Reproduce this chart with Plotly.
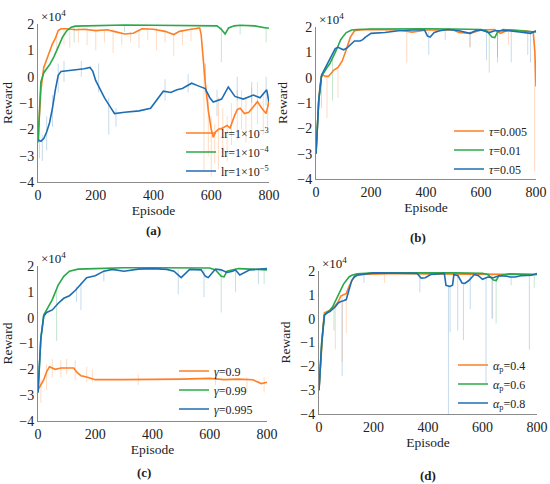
import plotly.graph_objects as go

# ---------------- data (rewards in units of 10^4) ----------------
# panel (a): learning rate
A_ORANGE_EP = [0, 5, 10, 20, 30, 40, 50, 60, 70, 80, 100, 130, 160, 200, 240, 270, 300, 330, 360, 400, 440, 470, 490, 520, 550, 560, 565, 572, 579, 590, 600, 607, 615, 625, 640, 655, 665, 680, 690, 700, 715, 730, 745, 760, 775, 790, 800]
A_ORANGE = [-2.4, -1.2, -0.5, 0.35, 0.65, 0.95, 1.25, 1.45, 1.75, 1.82, 1.82, 1.78, 1.8, 1.75, 1.78, 1.7, 1.62, 1.65, 1.82, 1.8, 1.72, 1.6, 1.72, 1.78, 1.85, 1.85, 1.6, 0.6, -0.2, -1.3, -2.0, -2.3, -2.1, -2.0, -1.95, -1.85, -1.95, -1.5, -1.25, -1.2, -1.4, -1.35, -1.15, -0.95, -1.2, -1.4, -0.95]
A_GREEN_EP = [0, 5, 10, 20, 30, 40, 55, 70, 85, 100, 115, 130, 160, 200, 300, 400, 500, 600, 620, 635, 648, 660, 680, 700, 750, 790, 800]
A_GREEN = [-2.5, -1.0, -0.2, 0.15, 0.3, 0.45, 0.75, 1.15, 1.5, 1.75, 1.88, 1.92, 1.93, 1.95, 1.96, 1.95, 1.95, 1.94, 1.93, 1.8, 1.62, 1.85, 1.93, 1.95, 1.93, 1.85, 1.85]
A_BLUE_EP = [0, 10, 20, 30, 40, 50, 60, 70, 80, 100, 130, 160, 180, 190, 200, 215, 230, 250, 265, 300, 350, 390, 413, 434, 460, 481, 500, 532, 555, 579, 595, 607, 636, 659, 682, 711, 746, 769, 792, 800]
A_BLUE = [-2.4, -2.45, -2.35, -2.1, -1.75, -1.2, -0.5, 0.05, 0.2, 0.22, 0.25, 0.3, 0.35, 0.2, -0.15, -0.5, -0.8, -1.15, -1.4, -1.35, -1.3, -1.2, -0.85, -0.55, -0.6, -0.5, -0.45, -0.25, -0.35, -0.45, -0.8, -0.96, -0.85, -0.39, -0.75, -0.85, -0.7, -0.8, -0.5, -0.96]
A_ORANGE_SPK_EP = [65, 90, 110, 140, 170, 200, 230, 260, 290, 320, 350, 380, 410, 440, 470, 500, 530, 575, 590, 600, 612, 625, 640, 655, 670, 690, 705, 720, 740, 760, 780, 795]
A_ORANGE_SPK_LO = [0.9, 1.2, 1.1, 1.3, 1.2, 1.0, 1.3, 0.9, 1.2, 1.3, 1.1, 1.4, 1.0, 1.3, 0.8, 1.2, 1.35, -3.6, -3.0, -3.8, -3.3, -3.5, -2.9, -3.2, -2.6, -2.4, -2.0, -2.5, -2.0, -1.8, -2.2, -1.9]
A_ORANGE_SPK_HI = [1.6, 1.85, 1.85, 1.85, 1.85, 1.8, 1.8, 1.8, 1.7, 1.7, 1.8, 1.85, 1.85, 1.75, 1.65, 1.8, 1.85, 0.5, -0.8, -1.5, -1.8, -0.8, -1.2, -1.5, -1.0, -0.5, -0.5, -0.8, -0.4, -0.2, -0.6, -0.5]
A_GREEN_SPK_EP = [125, 300, 635, 700, 790]
A_GREEN_SPK_LO = [1.3, 1.7, 0.55, 1.6, 1.3]
A_GREEN_SPK_HI = [1.95, 1.97, 1.9, 1.95, 1.9]
A_BLUE_SPK_EP = [5, 15, 30, 50, 70, 90, 150, 210, 245, 270, 440, 520, 580, 620, 690, 740, 790]
A_BLUE_SPK_LO = [-3.1, -3.2, -2.8, -1.9, -0.6, -0.2, 0.0, -0.6, -2.2, -1.9, -0.9, -0.6, -0.6, -1.5, -0.9, -1.0, -1.1]
A_BLUE_SPK_HI = [-2.0, -2.2, -1.5, -0.7, 0.5, 0.6, 0.6, 0.5, -0.8, -1.2, -0.1, 0.1, 0.5, -0.5, 0.0, -0.2, 0.0]

# panel (b): tau
B_ORANGE_EP = [0, 5, 10, 15, 20, 25, 35, 45, 55, 65, 80, 95, 110, 125, 140, 160, 200, 300, 350, 400, 500, 520, 560, 600, 650, 670, 700, 760, 790, 796, 800]
B_ORANGE = [-3.0, -1.8, -0.9, -0.3, 0.05, 0.1, 0.05, 0.05, 0.2, 0.3, 0.4, 0.65, 1.1, 1.6, 1.85, 1.88, 1.9, 1.88, 1.8, 1.88, 1.88, 1.78, 1.75, 1.88, 1.9, 1.75, 1.88, 1.85, 1.8, 1.0, -0.35]
B_GREEN_EP = [0, 5, 10, 20, 30, 40, 50, 60, 70, 80, 90, 100, 110, 130, 150, 200, 300, 400, 500, 600, 620, 640, 650, 660, 680, 800]
B_GREEN = [-3.0, -1.8, -0.9, 0.05, 0.25, 0.4, 0.55, 0.75, 1.0, 1.25, 1.5, 1.65, 1.78, 1.88, 1.9, 1.92, 1.93, 1.93, 1.92, 1.9, 1.85, 1.6, 1.58, 1.8, 1.9, 1.8]
B_BLUE_EP = [0, 5, 10, 20, 30, 40, 50, 60, 70, 80, 90, 100, 110, 120, 140, 160, 170, 180, 200, 250, 300, 350, 395, 405, 415, 430, 450, 480, 520, 560, 580, 600, 630, 650, 700, 740, 780, 800]
B_BLUE = [-3.0, -1.8, -0.9, 0.1, 0.3, 0.5, 0.7, 0.95, 1.15, 1.2, 1.15, 1.1, 1.15, 1.25, 1.45, 1.45, 1.5, 1.6, 1.75, 1.78, 1.85, 1.88, 1.88, 1.65, 1.6, 1.78, 1.85, 1.9, 1.85, 1.75, 1.85, 1.88, 1.78, 1.85, 1.85, 1.8, 1.75, 1.85]
B_ORANGE_SPK_EP = [40, 80, 330, 560, 700, 795]
B_ORANGE_SPK_LO = [-1.6, -0.8, 0.6, 1.2, 1.3, -3.7]
B_ORANGE_SPK_HI = [0.1, 0.4, 1.85, 1.8, 1.88, 1.5]
B_GREEN_SPK_EP = [20, 60, 630, 660]
B_GREEN_SPK_LO = [-1.2, -0.9, 0.2, 0.8]
B_GREEN_SPK_HI = [0.1, 0.75, 1.85, 1.85]
B_BLUE_SPK_EP = [410, 470, 560, 620, 660, 710, 770, 780]
B_BLUE_SPK_LO = [0.9, 1.5, 1.2, 0.7, 0.6, 0.6, 0.9, 0.6]
B_BLUE_SPK_HI = [1.8, 1.9, 1.85, 1.85, 1.85, 1.85, 1.8, 1.8]

# panel (c): gamma
C_ORANGE_EP = [0, 10, 20, 30, 40, 60, 80, 100, 125, 135, 150, 170, 200, 300, 400, 500, 600, 650, 700, 750, 780, 800]
C_ORANGE = [-2.8, -2.6, -2.4, -2.1, -1.9, -2.0, -1.95, -1.95, -1.95, -2.1, -2.25, -2.3, -2.4, -2.4, -2.4, -2.38, -2.35, -2.4, -2.38, -2.4, -2.55, -2.5]
C_GREEN_EP = [0, 5, 10, 20, 30, 50, 70, 90, 110, 140, 200, 300, 400, 600, 620, 640, 650, 660, 700, 800]
C_GREEN = [-2.9, -1.6, -0.8, 0.1, 0.3, 0.7, 1.25, 1.6, 1.8, 1.88, 1.9, 1.93, 1.93, 1.92, 1.85, 1.6, 1.58, 1.8, 1.9, 1.85]
C_BLUE_EP = [0, 5, 10, 20, 30, 50, 70, 90, 110, 130, 150, 170, 200, 230, 260, 300, 350, 400, 450, 475, 500, 515, 530, 570, 585, 595, 610, 620, 640, 660, 680, 690, 705, 720, 740, 800]
C_BLUE = [-2.9, -1.6, -0.8, 0.05, 0.2, 0.3, 0.55, 0.75, 0.85, 1.05, 1.3, 1.55, 1.62, 1.8, 1.87, 1.8, 1.88, 1.9, 1.87, 1.8, 1.55, 1.7, 1.87, 1.85, 1.6, 1.55, 1.75, 1.88, 1.85, 1.75, 1.8, 1.85, 1.65, 1.75, 1.85, 1.9]
C_ORANGE_SPK_EP = [10, 30, 50, 80, 100, 130, 170, 190, 350, 620, 730, 790]
C_ORANGE_SPK_LO = [-3.3, -2.8, -2.3, -2.3, -2.2, -2.4, -2.5, -2.5, -2.6, -2.6, -2.9, -2.9]
C_ORANGE_SPK_HI = [-2.4, -1.8, -1.6, -1.65, -1.6, -1.65, -1.9, -2.0, -2.2, -2.2, -2.3, -2.3]
C_GREEN_SPK_EP = [65, 640, 790]
C_GREEN_SPK_LO = [-0.9, 0.2, 1.3]
C_GREEN_SPK_HI = [1.0, 1.85, 1.85]
C_BLUE_SPK_EP = [135, 150, 230, 490, 580, 690, 770]
C_BLUE_SPK_LO = [0.6, 0.3, 1.4, 0.9, 0.8, 1.0, 1.3]
C_BLUE_SPK_HI = [1.2, 1.35, 1.85, 1.85, 1.85, 1.85, 1.9]

# panel (d): alpha_p
D_ORANGE_EP = [0, 5, 10, 15, 20, 30, 40, 50, 60, 70, 80, 90, 100, 110, 120, 130, 140, 200, 300, 400, 500, 600, 700, 800]
D_ORANGE = [-3.0, -2.0, -1.2, -0.3, 0.25, 0.3, 0.35, 0.45, 0.55, 0.7, 0.95, 1.0, 1.05, 1.35, 1.6, 1.8, 1.85, 1.88, 1.9, 1.88, 1.88, 1.85, 1.88, 1.85]
D_GREEN_EP = [0, 5, 10, 20, 30, 40, 50, 60, 70, 80, 90, 100, 110, 120, 140, 200, 300, 400, 500, 600, 620, 640, 650, 660, 700, 800]
D_GREEN = [-3.0, -2.0, -1.0, 0.15, 0.25, 0.35, 0.5, 0.75, 1.0, 1.25, 1.45, 1.6, 1.75, 1.82, 1.88, 1.92, 1.93, 1.92, 1.92, 1.9, 1.85, 1.62, 1.6, 1.8, 1.88, 1.85]
D_BLUE_EP = [0, 5, 10, 20, 30, 40, 50, 60, 70, 80, 90, 100, 110, 120, 130, 140, 200, 300, 360, 375, 390, 410, 460, 466, 480, 490, 495, 510, 525, 535, 550, 570, 585, 600, 620, 640, 660, 690, 700, 720, 740, 780, 800]
D_BLUE = [-3.0, -2.0, -1.0, 0.15, 0.25, 0.3, 0.4, 0.5, 0.65, 0.72, 0.75, 0.8, 1.2, 1.6, 1.75, 1.82, 1.92, 1.92, 1.9, 1.7, 1.72, 1.85, 1.9, 1.4, 1.35, 1.4, 1.85, 1.8, 1.5, 1.48, 1.6, 1.85, 1.8, 1.65, 1.75, 1.72, 1.8, 1.78, 1.75, 1.75, 1.8, 1.82, 1.9]
D_ORANGE_SPK_EP = [60, 85, 100, 240, 634]
D_ORANGE_SPK_LO = [-1.3, -1.8, -0.6, 1.5, 0.0]
D_ORANGE_SPK_HI = [0.55, 0.95, 1.0, 1.88, 1.85]
D_GREEN_SPK_EP = [55, 650, 790]
D_GREEN_SPK_LO = [-0.5, -0.2, 1.3]
D_GREEN_SPK_HI = [0.6, 1.7, 1.85]
D_BLUE_SPK_EP = [85, 165, 370, 475, 481, 509, 530, 555, 613, 637, 705, 772]
D_BLUE_SPK_LO = [-2.4, 1.5, 1.1, -4.0, -0.57, -0.5, -0.9, 0.4, -2.7, 0.0, 1.4, -1.3]
D_BLUE_SPK_HI = [0.75, 1.9, 1.9, 1.4, 1.4, 1.8, 1.5, 1.85, 1.75, 1.75, 1.78, 1.8]

LEGEND_A = ["lr=1×10<sup>−3</sup>", "lr=1×10<sup>−4</sup>", "lr=1×10<sup>−5</sup>"]
LEGEND_B = ["<i>τ</i>=0.005", "<i>τ</i>=0.01", "<i>τ</i>=0.05"]
LEGEND_C = ["<i>γ</i>=0.9", "<i>γ</i>=0.99", "<i>γ</i>=0.995"]
LEGEND_D = ["<i>α</i><sub>p</sub>=0.4", "<i>α</i><sub>p</sub>=0.6", "<i>α</i><sub>p</sub>=0.8"]
PANEL_LABELS = ["(a)", "(b)", "(c)", "(d)"]
X_TICKS = [0, 200, 400, 600, 800]
Y_TICKS = [-4, -3, -2, -1, 0, 1, 2]

# ---------------- styling ----------------
ORANGE = "#FF7F27"
GREEN = "#2BA84A"
BLUE = "#1F6EB3"
FAINT = {ORANGE: "rgba(255,127,39,0.28)", GREEN: "rgba(43,168,74,0.28)", BLUE: "rgba(31,110,179,0.25)"}
SERIF = "Liberation Serif"

W, H = 550, 484


def fx(px):
    return px / W


def fy(py):
    return 1 - py / H


# plot-area boxes in window pixels: (left, right, top, bottom)
BOXES = [(38, 269, 24, 182), (316, 536, 27, 179), (38, 267, 266, 421), (319, 537, 271, 414)]
# legend placement in window pixels: (left, center-y)
LEG_POS = [(181, 152), (449, 150), (174, 390), (453, 384)]
LABEL_POS = [(153, 230), (418, 237), (144, 472), (428, 475)]

panels = [
    ((A_ORANGE_EP, A_ORANGE, A_GREEN_EP, A_GREEN, A_BLUE_EP, A_BLUE),
     ((A_ORANGE_SPK_EP, A_ORANGE_SPK_LO, A_ORANGE_SPK_HI), (A_GREEN_SPK_EP, A_GREEN_SPK_LO, A_GREEN_SPK_HI), (A_BLUE_SPK_EP, A_BLUE_SPK_LO, A_BLUE_SPK_HI)), LEGEND_A),
    ((B_ORANGE_EP, B_ORANGE, B_GREEN_EP, B_GREEN, B_BLUE_EP, B_BLUE),
     ((B_ORANGE_SPK_EP, B_ORANGE_SPK_LO, B_ORANGE_SPK_HI), (B_GREEN_SPK_EP, B_GREEN_SPK_LO, B_GREEN_SPK_HI), (B_BLUE_SPK_EP, B_BLUE_SPK_LO, B_BLUE_SPK_HI)), LEGEND_B),
    ((C_ORANGE_EP, C_ORANGE, C_GREEN_EP, C_GREEN, C_BLUE_EP, C_BLUE),
     ((C_ORANGE_SPK_EP, C_ORANGE_SPK_LO, C_ORANGE_SPK_HI), (C_GREEN_SPK_EP, C_GREEN_SPK_LO, C_GREEN_SPK_HI), (C_BLUE_SPK_EP, C_BLUE_SPK_LO, C_BLUE_SPK_HI)), LEGEND_C),
    ((D_ORANGE_EP, D_ORANGE, D_GREEN_EP, D_GREEN, D_BLUE_EP, D_BLUE),
     ((D_ORANGE_SPK_EP, D_ORANGE_SPK_LO, D_ORANGE_SPK_HI), (D_GREEN_SPK_EP, D_GREEN_SPK_LO, D_GREEN_SPK_HI), (D_BLUE_SPK_EP, D_BLUE_SPK_LO, D_BLUE_SPK_HI)), LEGEND_D),
]

fig = go.Figure()
layout = dict(template="none", width=W, height=H, autosize=False, margin=dict(l=0, r=0, t=0, b=0, pad=0),
              paper_bgcolor="white", plot_bgcolor="white",
              font=dict(family=SERIF, size=13, color="#222"), annotations=[])
colors = [ORANGE, GREEN, BLUE]

for i, (series, spikes, names) in enumerate(panels):
    n = "" if i == 0 else str(i + 1)
    xa, ya = "x" + n, "y" + n
    leg = "legend" + n
    # faint raw spikes
    for (sx, slo, shi), c in zip(spikes, colors):
        xs, ys = [], []
        for e, lo, hi in zip(sx, slo, shi):
            xs += [e, e, None]
            ys += [lo, hi, None]
        fig.add_trace(go.Scatter(x=xs, y=ys, mode="lines", line=dict(color=FAINT[c], width=1),
                                 xaxis=xa, yaxis=ya, showlegend=False, hoverinfo="skip"))
    # smoothed curves
    for k, c in enumerate(colors):
        fig.add_trace(go.Scatter(x=series[2 * k], y=series[2 * k + 1], mode="lines", name=names[k],
                                 line=dict(color=c, width=1.6), xaxis=xa, yaxis=ya, legend=leg))
    l, r, t, b = BOXES[i]
    layout["xaxis" + n] = dict(domain=[fx(l), fx(r)], range=[0, 800], anchor=ya, tickvals=X_TICKS,
                               showline=True, linecolor="#8a8a8a", linewidth=1, showgrid=False,
                               zeroline=False, ticks="", automargin=False,
                               tickfont=dict(size=14, family=SERIF, color="#222"),
                               title=dict(text="Episode", font=dict(size=13.5, family=SERIF, color="#222"), standoff=2))
    layout["yaxis" + n] = dict(domain=[fy(b), fy(t)], range=[-4, 2], anchor=xa, tickvals=Y_TICKS,
                               showline=True, linecolor="#8a8a8a", linewidth=1, showgrid=False,
                               zeroline=False, ticks="", automargin=False,
                               tickfont=dict(size=14, family=SERIF, color="#222"),
                               title=dict(text="Reward", font=dict(size=13.5, family=SERIF, color="#222"), standoff=6))
    lx, ly = LEG_POS[i]
    layout[leg] = dict(x=fx(lx), y=fy(ly), xanchor="left", yanchor="middle",
                       bgcolor="rgba(0,0,0,0)", font=dict(size=12, family=SERIF, color="#222"),
                       itemwidth=30, tracegroupgap=0, borderwidth=0)
    layout["annotations"].append(dict(text="×10<sup>4</sup>", xref=xa + " domain", yref=ya + " domain",
                                      x=0, y=1, xanchor="left", yanchor="bottom", showarrow=False,
                                      font=dict(size=13, family=SERIF, color="#222"), xshift=1, yshift=-2))
    px, py = LABEL_POS[i]
    layout["annotations"].append(dict(text="<b>" + PANEL_LABELS[i] + "</b>", xref="paper", yref="paper",
                                      x=fx(px), y=fy(py), xanchor="center", yanchor="middle",
                                      showarrow=False, font=dict(size=13, family=SERIF, color="#222")))

fig.update_layout(**layout)
# remove the browser's default 8 px page margin so the 550x484 figure fills the window exactly
fig.write_html("out.html", config={"displayModeBar": False},
               post_script="document.body.style.margin='0';document.body.style.overflow='hidden';")
